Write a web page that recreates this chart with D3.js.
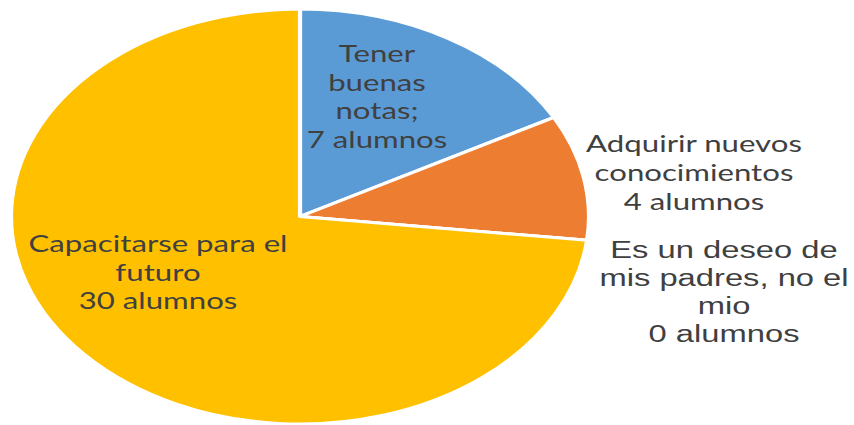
<!DOCTYPE html>
<html lang="es">
<head>
  <meta charset="utf-8">
  <title>Motivos</title>
  <script src="https://d3js.org/d3.v7.min.js"></script>
  <style>
    body { margin: 0; background: #fff; }
    svg { display: block; }
  </style>
</head>
<body>
  <svg class="chart"></svg>
  <script>
  const categories = ["Tener buenas notas;", "Adquirir nuevos conocimientos", "Es un deseo de mis padres, no el mio", "Capacitarse para el futuro"];
  const values = [7, 4, 0, 30];
  const labelLines = [
    ["Tener", "buenas", "notas;", "7 alumnos"],
    ["Adquirir nuevos", "conocimientos", "4 alumnos"],
    ["Es un deseo de", "mis padres, no el", "mio", "0 alumnos"],
    ["Capacitarse para el", "futuro", "30 alumnos"]
  ];
  const colors = ["#5B9BD5", "#ED7D31", "#A5A5A5", "#FFC000"];

  const width = 854, height = 425;
  const cx = 300, cy = 216.5;
  const r = 207.5;
  const sx = 289 / 207.5;   // the picture is stretched sideways

  // where each label block sits: centre x, first baseline, line step, font
  const labelPos = [
    { x: 377, y: 62, step: 28.7, font: "Lato", size: 22.4 },
    { x: 694, y: 152, step: 29, font: "Lato", size: 22.4 },
    { x: 724, y: 258, step: 28, font: "Liberation Sans", size: 23.5 },
    { x: 158, y: 252, step: 28.7, font: "Lato", size: 22.4 }
  ];

  const svg = d3.select(".chart")
    .attr("width", width)
    .attr("height", height);

  const pie = d3.pie().sort(null).value(d => d);
  const arc = d3.arc().innerRadius(0).outerRadius(r);

  const g = svg.append("g")
    .attr("transform", `translate(${cx},${cy}) scale(${sx},1)`);

  g.selectAll("path")
    .data(pie(values)).enter()
    .append("path")
    .attr("d", arc)
    .style("fill", (d, i) => colors[i])
    .style("stroke", "#fff")
    .style("stroke-width", 3)
    .style("stroke-linejoin", "round");

  labelLines.forEach((lines, i) => {
    const p = labelPos[i];
    const t = svg.append("text")
      .attr("transform", `translate(${p.x},${p.y}) scale(${sx},1)`)
      .attr("text-anchor", "middle")
      .style("font-family", p.font)
      .style("font-size", p.size + "px")
      .style("fill", "#404040");
    lines.forEach((line, j) => {
      t.append("tspan").attr("x", 0).attr("y", j * p.step).text(line);
    });
  });
  </script>
</body>
</html>
